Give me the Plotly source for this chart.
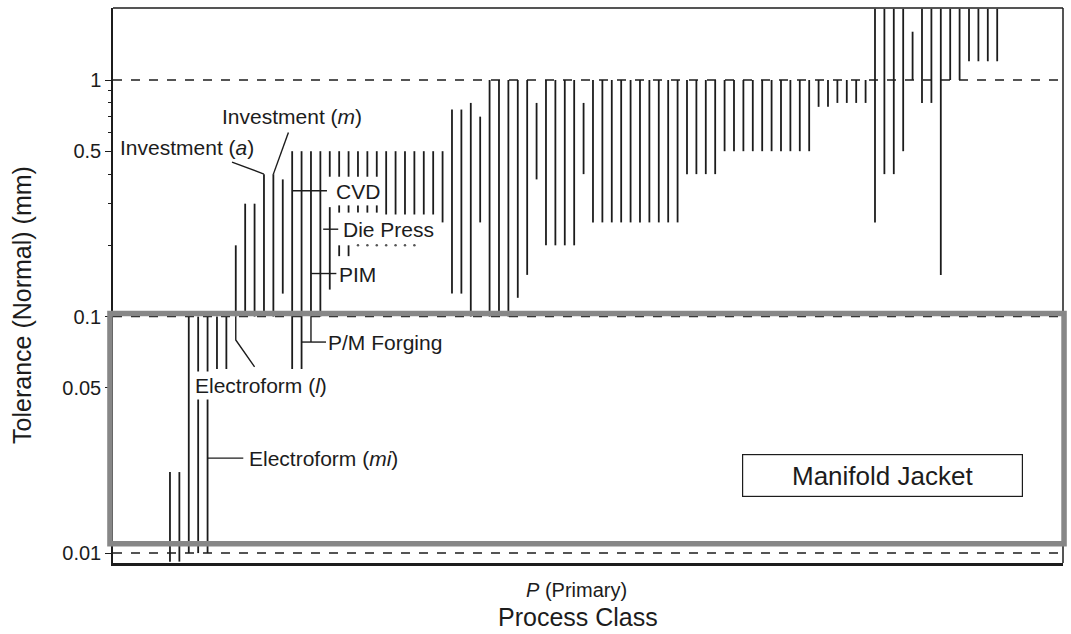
import math
import plotly.graph_objects as go

# ---------------- data ----------------
# process rank along the "Process Class" axis, with the tolerance span (mm)
proc_idx = [
    0, 1, 2, 3, 4, 5, 6, 7, 8, 9,
    10, 11, 12, 13, 14, 15, 16, 17, 17, 18,
    18, 18, 19, 19, 19, 20, 20, 21, 21, 22,
    22, 23, 24, 25, 26, 27, 28, 29, 30, 31,
    32, 33, 34, 35, 36, 37, 38, 39, 40, 41,
    42, 43, 44, 45, 46, 47, 48, 49, 50, 51,
    52, 53, 54, 55, 56, 57, 58, 59, 60, 61,
    62, 63, 64, 65, 66, 67, 68, 69, 70, 71,
    72, 73, 74, 75, 76, 77, 78, 79, 80, 81,
    82, 83, 84, 85, 86, 87, 88]

tol_low = [
    0.0092, 0.0092, 0.01, 0.01, 0.01, 0.06, 0.06, 0.1, 0.1, 0.1,
    0.1, 0.1, 0.125, 0.06, 0.06, 0.1, 0.1, 0.39, 0.13, 0.39,
    0.275, 0.18, 0.39, 0.275, 0.18, 0.39, 0.275, 0.39, 0.275, 0.39,
    0.275, 0.27, 0.27, 0.27, 0.27, 0.27, 0.27, 0.25, 0.125, 0.125,
    0.1, 0.25, 0.1, 0.1, 0.1, 0.12, 0.15, 0.38, 0.2, 0.2,
    0.2, 0.2, 0.4, 0.25, 0.25, 0.25, 0.25, 0.25, 0.25, 0.25,
    0.25, 0.25, 0.25, 0.4, 0.4, 0.4, 0.4, 0.5, 0.5, 0.5,
    0.5, 0.5, 0.5, 0.5, 0.5, 0.5, 0.5, 0.77, 0.77, 0.8,
    0.8, 0.8, 0.8, 0.25, 0.4, 0.4, 0.5, 1.0, 0.8, 0.8,
    0.15, 1.0, 1.0, 1.2, 1.2, 1.2, 1.2]

tol_high = [
    0.022, 0.022, 0.1, 0.1, 0.1, 0.1, 0.1, 0.2, 0.3, 0.3,
    0.4, 0.4, 0.38, 0.5, 0.5, 0.5, 0.5, 0.5, 0.29, 0.5,
    0.295, 0.2, 0.5, 0.295, 0.2, 0.5, 0.295, 0.5, 0.295, 0.5,
    0.295, 0.5, 0.5, 0.5, 0.5, 0.5, 0.5, 0.5, 0.75, 0.75,
    0.8, 0.7, 1.0, 1.0, 1.0, 1.0, 1.0, 0.8, 1.0, 1.0,
    1.0, 1.0, 0.8, 1.0, 1.0, 1.0, 1.0, 1.0, 1.0, 1.0,
    1.0, 1.0, 1.0, 1.0, 1.0, 1.0, 1.0, 1.0, 1.0, 1.0,
    1.0, 1.0, 1.0, 1.0, 1.0, 1.0, 1.0, 1.0, 1.0, 1.0,
    1.0, 1.0, 1.0, 2.0, 2.0, 2.0, 2.0, 1.6, 2.0, 2.0,
    2.0, 2.0, 2.0, 2.0, 2.0, 2.0, 2.0]

# dotted PIM-type entries at 0.2 mm
dot_idx = [20, 21, 22, 23, 24, 25, 26]
dot_val = [0.2, 0.2, 0.2, 0.2, 0.2, 0.2, 0.2]

ref_levels = [1.0, 0.1, 0.01]
tick_vals = [0.01, 0.05, 0.1, 0.5, 1]
tick_text = ["0.01", "0.05", "0.1", "0.5", "1"]
minor_vals = [0.02, 0.03, 0.04, 0.06, 0.07, 0.08, 0.09,
              0.2, 0.3, 0.4, 0.6, 0.7, 0.8, 0.9]

# design window (Manifold Jacket)
window_low, window_high = 0.01096, 0.103

FONT = "Liberation Sans, Arial, sans-serif"
INK = "#1c1c1c"

# ---------------- figure ----------------
xs, ys = [], []
for i, lo, hi in zip(proc_idx, tol_low, tol_high):
    xs += [i, i, None]
    ys += [lo, hi, None]

fig = go.Figure()
fig.add_trace(go.Scatter(x=xs, y=ys, mode="lines",
                         line=dict(color=INK, width=1.8),
                         hoverinfo="skip", showlegend=False))
fig.add_trace(go.Scatter(x=dot_idx, y=dot_val, mode="markers",
                         marker=dict(color="#555", size=2.5),
                         hoverinfo="skip", showlegend=False))

# leader lines for labels (in data coordinates)
leaders = [
    ([6.6, 10.0], [0.45, 0.4]),            # Investment (a)
    ([11.0, 12.6], [0.4, 0.6]),            # Investment (m)
    ([13.0, 16.7], [0.34, 0.34]),          # CVD
    ([16.3, 17.9], [0.234, 0.234]),        # Die Press
    ([15.0, 17.7], [0.152, 0.152]),        # PIM
    ([15.0, 15.0], [0.1, 0.078]),          # P/M Forging
    ([14.0, 16.6], [0.078, 0.078]),
    ([7.0, 7.0, 9.0], [0.1, 0.0796, 0.0612]),  # Electroform (l)
    ([4.0, 7.8], [0.0252, 0.0252]),        # Electroform (mi)
]
for lx, lyy in leaders:
    fig.add_trace(go.Scatter(x=lx, y=lyy, mode="lines",
                             line=dict(color=INK, width=1.4),
                             hoverinfo="skip", showlegend=False))

shapes = []
for lv in ref_levels:
    shapes.append(dict(type="line", xref="paper", yref="y", x0=0, x1=1,
                       y0=lv, y1=lv, line=dict(color=INK, width=1.5, dash="dash"),
                       layer="below"))
# frame top & right
shapes.append(dict(type="line", xref="paper", yref="paper", x0=0, x1=1, y0=1, y1=1,
                   line=dict(color=INK, width=1.5)))
shapes.append(dict(type="line", xref="paper", yref="paper", x0=1, x1=1, y0=0, y1=1,
                   line=dict(color=INK, width=1.5)))
# grey window
shapes.append(dict(type="rect", xref="paper", yref="y", x0=-0.0032, x1=1.0011,
                   y0=window_low, y1=window_high,
                   line=dict(color="#878787", width=5.5), fillcolor="rgba(0,0,0,0)"))


def ly(v):
    return math.log10(v)


lab = dict(size=21, color=INK, family=FONT)
annotations = [
    dict(x=13.0, y=ly(0.70), text="Investment (<i>m</i>)", xanchor="center"),
    dict(x=1.8, y=ly(0.516), text="Investment (<i>a</i>)", xanchor="center"),
    dict(x=17.5, y=ly(0.339), text="CVD", xanchor="left"),
    dict(x=18.2, y=ly(0.234), text="Die Press", xanchor="left"),
    dict(x=17.8, y=ly(0.151), text="PIM", xanchor="left"),
    dict(x=16.6, y=ly(0.078), text="P/M Forging", xanchor="left"),
    dict(x=9.7, y=ly(0.0513), text="Electroform (<i>l</i>)", xanchor="center",
         bgcolor="white", borderpad=2),
    dict(x=8.2, y=ly(0.0252), text="Electroform (<i>mi</i>)", xanchor="left"),
]
for a in annotations:
    a.update(xref="x", yref="y", showarrow=False, yanchor="middle", font=lab)

annotations += [
    dict(xref="paper", yref="paper", x=0.81, y=0.1568, text="Manifold Jacket",
         xanchor="center", yanchor="middle",
         showarrow=False, font=dict(size=26, color=INK, family=FONT),
         bordercolor=INK, borderwidth=1.2, borderpad=1, width=277, height=39,
         bgcolor="white"),
    dict(xref="paper", yref="paper", x=-0.0958, y=0.465,
         xanchor="center", yanchor="middle",
         text="Tolerance (Normal) (mm)", textangle=-90, showarrow=False,
         font=dict(size=25, color=INK, family=FONT)),
    dict(xref="paper", yref="paper", x=0.488, y=-0.0486,
         xanchor="center", yanchor="middle",
         text="<i>P</i> (Primary)", showarrow=False,
         font=dict(size=20, color=INK, family=FONT)),
    dict(xref="paper", yref="paper", x=0.4895, y=-0.1252,
         xanchor="center", yanchor="bottom", borderpad=0,
         text="Process Class", showarrow=False,
         font=dict(size=25, color=INK, family=FONT)),
]

fig.update_layout(
    width=1071, height=634,
    margin=dict(l=113, r=8, t=8, b=71),
    paper_bgcolor="white", plot_bgcolor="white",
    showlegend=False,
    shapes=shapes,
    annotations=annotations,
    xaxis=dict(range=[-6.06, 95.0], showgrid=False, zeroline=False,
               showticklabels=False, ticks="", showline=True,
               linecolor=INK, linewidth=2.5),
    yaxis=dict(type="log", range=[-2.042, 0.3044], showgrid=False, zeroline=False,
               tickvals=tick_vals, ticktext=tick_text, ticks="outside",
               ticklen=6, tickwidth=1.3, tickcolor=INK,
               showline=True, linecolor=INK, linewidth=1.5,
               tickfont=dict(size=20, color=INK, family=FONT),
               minor=dict(tickvals=minor_vals, ticks="outside", ticklen=3,
                          tickwidth=1.2, tickcolor=INK)),
)

fig.write_html("out.html", config={"displayModeBar": False},
               post_script="document.body.style.margin='0';document.body.style.padding='0';")
